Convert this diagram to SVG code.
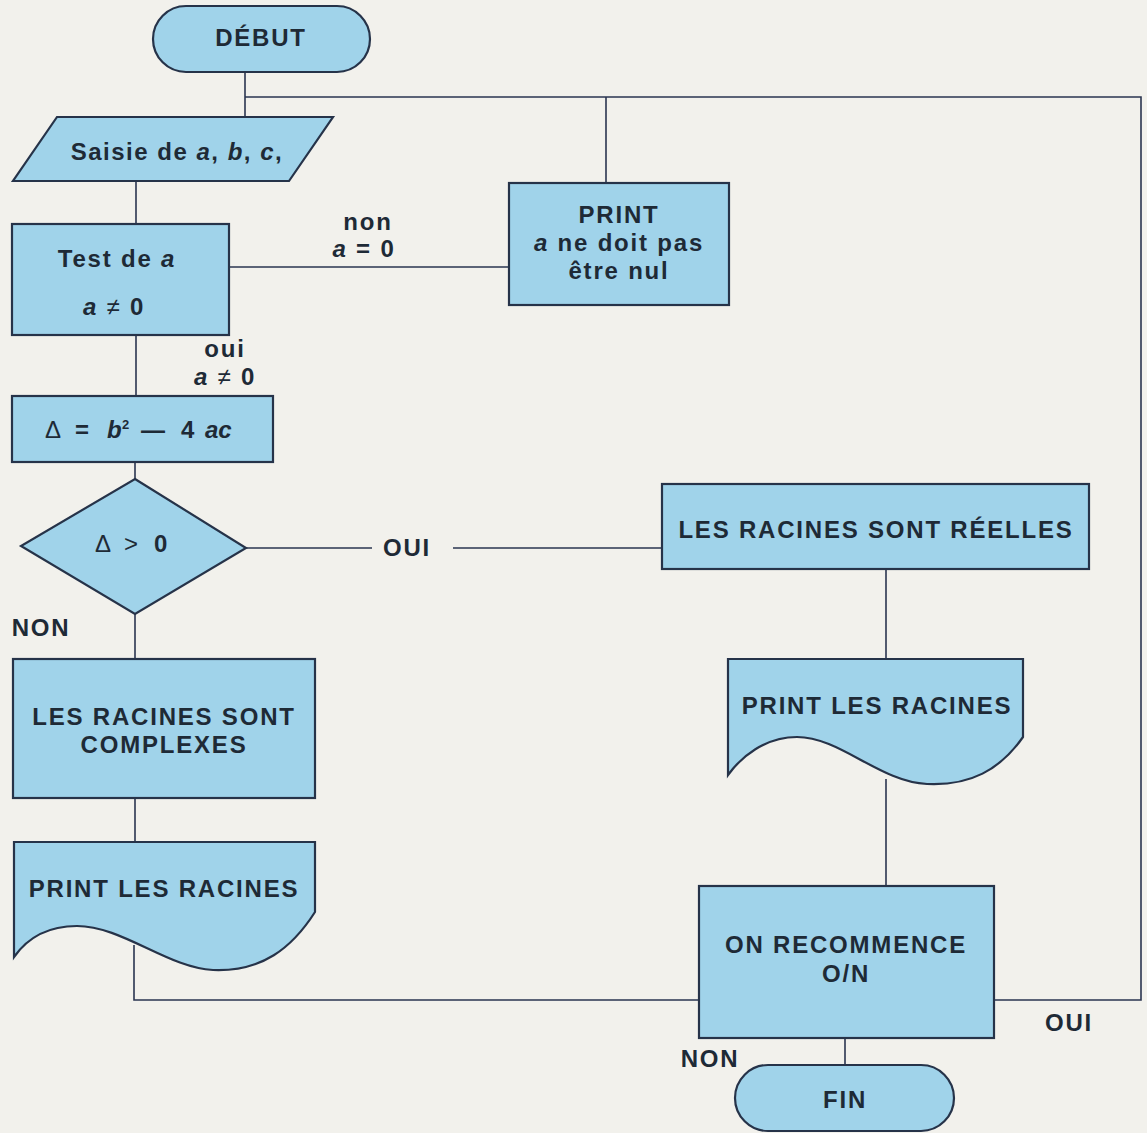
<svg xmlns="http://www.w3.org/2000/svg" width="1147" height="1133" viewBox="0 0 1147 1133">
<style>
.bg{fill:#f2f1ec}
.n{fill:#a0d3ea;stroke:#263349;stroke-width:2.2}
.c{fill:none;stroke:#2a3550;stroke-width:1.6}
text{font-family:"Liberation Sans",Arial,Helvetica,sans-serif;font-weight:bold;font-size:24px;fill:#1e2a36;letter-spacing:1.8px;text-anchor:middle}
.i{font-style:italic}
.r{font-weight:normal}
.s{text-anchor:start;letter-spacing:0}
</style>
<rect class="bg" x="0" y="0" width="1147" height="1133"/>
<g id="connectors">
<path class="c" d="M245,72 V117"/>
<path class="c" d="M245,97 H1141 V1000 H994"/>
<path class="c" d="M606,97 V183"/>
<path class="c" d="M136,181 V224"/>
<path class="c" d="M229,267 H509"/>
<path class="c" d="M136,335 V396"/>
<path class="c" d="M135,462 V479"/>
<path class="c" d="M246,548 H372"/>
<path class="c" d="M453,548 H662"/>
<path class="c" d="M135,614 V659"/>
<path class="c" d="M135,798 V842"/>
<path class="c" d="M134,945 V1000 H699"/>
<path class="c" d="M886,569 V659"/>
<path class="c" d="M886,779 V886"/>
<path class="c" d="M845,1038 V1065"/>
<text x="368" y="230">non</text>
<text x="364" y="257"><tspan class="i">a</tspan> = 0</text>
<text x="225" y="357">oui</text>
<text x="225" y="385"><tspan class="i">a</tspan> <tspan class="r">≠</tspan> 0</text>
<text x="407" y="556">OUI</text>
<text x="41" y="636">NON</text>
<text x="1069" y="1031">OUI</text>
<text x="710" y="1067">NON</text>
</g>
<g id="debut">
<rect class="n" x="153" y="6" width="217" height="66" rx="33"/>
<text x="261" y="46">DÉBUT</text>
</g>
<g id="saisie">
<polygon class="n" points="57,117 333,117 289,181 13,181"/>
<text x="177" y="160" style="letter-spacing:1.5px">Saisie de <tspan class="i">a</tspan>, <tspan class="i">b</tspan>, <tspan class="i">c</tspan>,</text>
</g>
<g id="test">
<rect class="n" x="12" y="224" width="217" height="111"/>
<text x="117" y="267">Test de <tspan class="i">a</tspan></text>
<text x="114" y="315"><tspan class="i">a</tspan>  <tspan class="r">≠</tspan>  0</text>
</g>
<g id="print-nul">
<rect class="n" x="509" y="183" width="220" height="122"/>
<text x="619" y="223">PRINT</text>
<text x="619" y="251"><tspan class="i">a</tspan> ne doit pas</text>
<text x="619" y="279">être nul</text>
</g>
<g id="delta">
<rect class="n" x="12" y="396" width="261" height="66"/>
<text class="s" y="438"><tspan class="r" x="45">Δ</tspan><tspan x="75">=</tspan><tspan class="i" x="107">b</tspan><tspan x="122" dy="-9" style="font-size:13px">2</tspan><tspan x="141" dy="9">—</tspan><tspan x="181">4</tspan><tspan class="i" x="205">ac</tspan></text>
</g>
<g id="decision">
<polygon class="n" points="135,479 246,548 135,614 21,546"/>
<text class="s" y="552"><tspan class="r" x="95">Δ</tspan><tspan class="r" x="124">&gt;</tspan><tspan x="154">0</tspan></text>
</g>
<g id="reelles">
<rect class="n" x="662" y="484" width="427" height="85"/>
<text x="876" y="538">LES RACINES SONT RÉELLES</text>
</g>
<g id="complexes">
<rect class="n" x="13" y="659" width="302" height="139"/>
<text x="164" y="725">LES RACINES SONT</text>
<text x="164" y="753">COMPLEXES</text>
</g>
<g id="print-complexes">
<path class="n" d="M14,842 H315 V912 C292,948 262,972 213,970 C168,968 122,926 77,926 C46,926 26,940 14,957 Z"/>
<text x="164" y="897">PRINT LES RACINES</text>
</g>
<g id="print-reelles">
<path class="n" d="M728,659 H1023 V737 C1000,770 970,786 927,784 C880,782 840,737 797,737 C765,737 741,757 728,775 Z"/>
<text x="877" y="714">PRINT LES RACINES</text>
</g>
<g id="recommence">
<rect class="n" x="699" y="886" width="295" height="152"/>
<text x="846" y="953">ON RECOMMENCE</text>
<text x="846" y="982">O/N</text>
</g>
<g id="fin">
<rect class="n" x="735" y="1065" width="219" height="66" rx="33"/>
<text x="845" y="1108">FIN</text>
</g>
</svg>
